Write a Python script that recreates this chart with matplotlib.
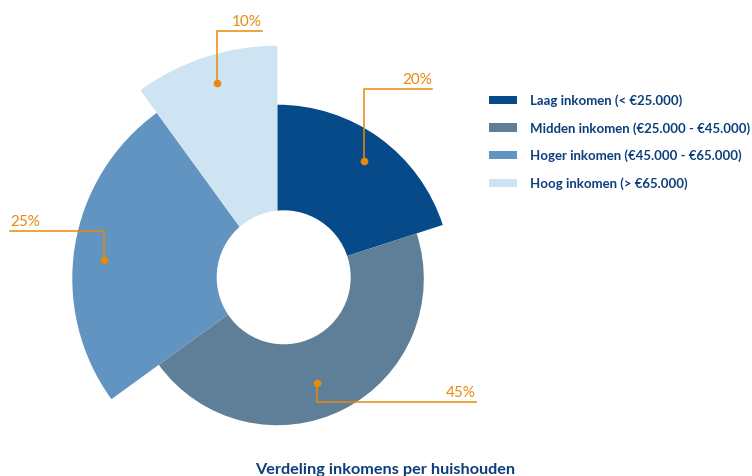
import matplotlib
matplotlib.use("Agg")
import matplotlib.pyplot as plt
from matplotlib.patches import Wedge, Circle, Rectangle
import numpy as np

# ---- data ----
categories = ["Laag inkomen (< €25.000)",
              "Midden inkomen (€25.000 - €45.000)",
              "Hoger inkomen (€45.000 - €65.000)",
              "Hoog inkomen (> €65.000)"]
values = [20, 45, 25, 10]
value_labels = ["20%", "45%", "25%", "10%"]
title = "Verdeling inkomens per huishouden"

# ---- style / layout ----
colors = ["#064a89", "#5e7f97", "#6194c0", "#cfe4f2"]
outer_r = [174, 146.5, 205, 233]          # rose radii (px)
anchor_frac = [0.84, 0.76, 0.85, 0.88]    # label dot position along radius
anchor_shift = [0.5, 6.3, -2.7, 0.8]      # label dot angular shift (deg)
elbow_y = [89.7, 403, 232.3, 32]          # label line elbow (px from top)
end_x = [432, 476, 10, 262]               # label line end x
orange = "#e8890c"
navy = "#0c3f7c"
FONT = "Lato"

W, H = 752, 477
fig = plt.figure(figsize=(W / 100, H / 100), dpi=100)
ax = fig.add_axes([0, 0, 1, 1])
ax.set_xlim(0, W)
ax.set_ylim(0, H)
ax.axis("off")

cx, cy = 277.3, H - 279.7
total = sum(values)
start = 0
for i, (v, c, r) in enumerate(zip(values, colors, outer_r)):
    a0 = start / total * 360
    a1 = (start + v) / total * 360
    ax.add_patch(Wedge((cx, cy), r, 90 - a1, 90 - a0, facecolor=c,
                       edgecolor="none", antialiased=True))
    # label
    am = np.deg2rad((a0 + a1) / 2 + anchor_shift[i])
    rd = anchor_frac[i] * r
    dx, dy = cx + rd * np.sin(am), cy + rd * np.cos(am)
    ey = H - elbow_y[i]
    ax.plot([dx, dx, end_x[i]], [dy, ey, ey], color=orange, lw=1.1,
            solid_joinstyle="miter", zorder=5)
    ax.plot([dx], [dy], "o", color=orange, ms=4.5, zorder=6)
    ha = "right" if end_x[i] > dx else "left"
    ax.text(end_x[i], ey + 3, value_labels[i], ha=ha, va="bottom",
            color=orange, fontsize=11, family=FONT, zorder=6)
    start += v

# hole
ax.add_patch(Circle((283.7, H - 278.3), 67, facecolor="white",
                    edgecolor="none", zorder=4))

# legend
leg_y = [101, 128.5, 156, 184]
for c, lab, y in zip(colors, categories, leg_y):
    ax.add_patch(Rectangle((489.3, H - y - 4.3), 28, 8.6, facecolor=c,
                           edgecolor="none"))
    ax.text(530.5, H - y, lab, ha="left", va="center", color=navy,
            fontsize=9.5, fontweight="bold", family=FONT)

ax.text(385, H - 470.5, title, ha="center", va="center", color=navy,
        fontsize=11.7, fontweight="bold", family=FONT)

fig.savefig("out.png", dpi=100)
